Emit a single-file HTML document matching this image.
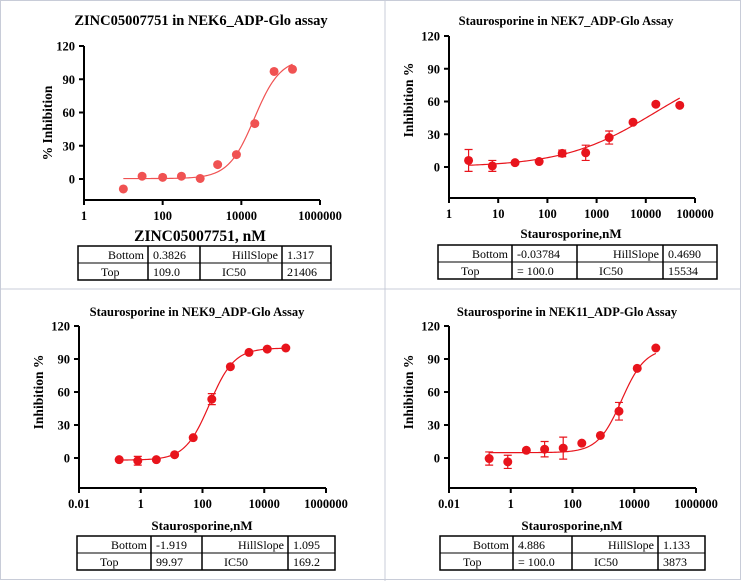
<!DOCTYPE html>
<html><head><meta charset="utf-8"><style>
html,body{margin:0;padding:0;background:#fff;}
svg{display:block;font-family:"Liberation Serif",serif;}
</style></head><body>
<svg id="s" width="741" height="581" viewBox="0 0 741 581" xmlns="http://www.w3.org/2000/svg">
<rect x="0.5" y="0.5" width="740" height="579" fill="#fff" stroke="#c8ccd8"/>
<line x1="385" y1="0" x2="385" y2="581" stroke="#c8ccd8"/>
<line x1="0" y1="289" x2="741" y2="289" stroke="#c8ccd8"/>
</svg>
<script>
// Panel 1: NEK6
const p1Conc=[10,30,100,300,900,2500,7500,22000,68000,200000];
const p1Val=[-9,2.5,1.5,2.5,0.5,13,22,50,97,99];
const p1Err=[0,0,0,0,0,0,0,0,0,0];
const p1Params=[0.3826,109.0,21406,1.317];
const p1Table=[["Bottom","0.3826","HillSlope","1.317"],["Top","109.0","IC50","21406"]];
const p1XTicks=["1","100","10000","1000000"];
// Panel 2: NEK7
const p2Conc=[2.5,7.6,22,68,200,600,1800,5500,16000,49000];
const p2Val=[6,1,4,5,12.5,13,27,41,57.5,56.5];
const p2Err=[10,5,0,0,3,7,6,0,0,0];
const p2Params=[-0.03784,100.0,15534,0.4690];
const p2Table=[["Bottom","-0.03784","HillSlope","0.4690"],["Top","= 100.0","IC50","15534"]];
const p2XTicks=["1","10","100","1000","10000","100000"];
// Panel 3: NEK9
const p3Conc=[0.2,0.8,3.2,12.5,50,200,800,3200,12500,50000];
const p3Val=[-1.5,-2.5,-1.5,3,18.5,53.5,83,96,99,100];
const p3Err=[0,4,0,0,0,5,0,0,0,0];
const p3Params=[-1.919,99.97,169.2,1.095];
const p3Table=[["Bottom","-1.919","HillSlope","1.095"],["Top","99.97","IC50","169.2"]];
const p3XTicks=["0.01","1","100","10000","1000000"];
// Panel 4: NEK11
const p4Conc=[0.2,0.8,3.2,12.5,50,200,800,3200,12500,50000];
const p4Val=[-0.5,-3.5,7,8,9,13.5,20.5,42.5,81.5,100];
const p4Err=[6,6,0,7,10,0,0,8,0,0];
const p4Params=[4.886,100.0,3873,1.133];
const p4Table=[["Bottom","4.886","HillSlope","1.133"],["Top","= 100.0","IC50","3873"]];
const p4XTicks=["0.01","1","100","10000","1000000"];
const yTicks=[0,30,60,90,120];

const NS="http://www.w3.org/2000/svg";
const svg=document.getElementById('s');
function mk(tag,attrs,parent){const e=document.createElementNS(NS,tag);for(const k in attrs)e.setAttribute(k,attrs[k]);(parent||svg).appendChild(e);return e;}

function panel(cfg){
  const g=mk('g',{});
  
  
  const xs=v=>cfg.x0+(Math.log10(v)-cfg.lmin)/(cfg.lmax-cfg.lmin)*(cfg.x1-cfg.x0);
  const ys=v=>cfg.y0-v/120*(cfg.y0-cfg.y120);
  let t=mk('text',{x:cfg.tx,y:cfg.ty,'text-anchor':'middle','font-size':cfg.tfs,'font-weight':'bold',fill:'#000'},g);
  t.textContent=cfg.title;
  
  
  // axes
  let a=mk('path',{d:`M${cfg.x0},${cfg.y120} V${cfg.yb} H${cfg.x1}`,stroke:'#000','stroke-width':2,fill:'none'},g);
  
  
  yTicks.forEach(v=>{
    const y=ys(v);
    mk('line',{x1:cfg.x0-5,y1:y,x2:cfg.x0,y2:y,stroke:'#000','stroke-width':2},g);
    const l=mk('text',{x:cfg.x0-9,y:y+4.5,'text-anchor':'end','font-size':12.5,'font-weight':'bold'},g);
    l.textContent=v;
    
    
  });
  cfg.xt.forEach(s=>{
    const x=xs(parseFloat(s));
    mk('line',{x1:x,y1:cfg.yb,x2:x,y2:cfg.yb+5,stroke:'#000','stroke-width':2},g);
    const l=mk('text',{x:x,y:cfg.yb+20,'text-anchor':'middle','font-size':12.5,'font-weight':'bold'},g);
    l.textContent=s;
    
    
  });
  const yl=mk('text',{transform:`translate(${cfg.ylx},${cfg.yly}) rotate(-90)`,'text-anchor':'middle','font-size':13.5,'font-weight':'bold'},g);
  yl.textContent=cfg.ylab;
  
  
  const xl=mk('text',{x:cfg.xlx,y:cfg.xly,'text-anchor':'middle','font-size':cfg.xfs,'font-weight':'bold'},g);
  xl.textContent=cfg.xlab;
  
  
  // fit curve
  const [bot,top,ic,h]=cfg.params;
  const la=Math.log10(cfg.conc[0]),lb=Math.log10(cfg.conc[cfg.conc.length-1]);
  let d='';
  for(let i=0;i<=120;i++){const l=la+(lb-la)*i/120;const v=bot+(top-bot)/(1+Math.pow(10,(Math.log10(ic)-l)*h));d+=(i?'L':'M')+xs(Math.pow(10,l)).toFixed(2)+','+ys(v).toFixed(2);}
  const c=mk('path',{d:d,stroke:cfg.col,'stroke-width':1.2,fill:'none'},g);
  
  
  cfg.conc.forEach((cv,i)=>{
    const x=xs(cv),y=ys(cfg.val[i]),e=cfg.err[i];
    if(e>0){
      const eb=mk('path',{d:`M${x},${ys(cfg.val[i]+e)}V${ys(cfg.val[i]-e)}M${x-4},${ys(cfg.val[i]+e)}H${x+4}M${x-4},${ys(cfg.val[i]-e)}H${x+4}`,stroke:cfg.col,'stroke-width':1.2,fill:'none'},g);
      
      
    }
    const p=mk('circle',{cx:x,cy:y,r:4.5,fill:cfg.col},g);
    
    
  });
  // table
  const tb=mk('g',{},g);
  
  
  const [tx0,tx1]=[cfg.tab[0],cfg.tab[4]],[ty0,ty1]=[cfg.tabY[0],cfg.tabY[1]],my=(ty0+ty1)/2;
  mk('rect',{x:tx0,y:ty0,width:tx1-tx0,height:ty1-ty0,fill:'none',stroke:'#000','stroke-width':1.5},tb);
  mk('line',{x1:tx0,y1:my,x2:tx1,y2:my,stroke:'#000','stroke-width':1},tb);
  for(let k=1;k<4;k++)mk('line',{x1:cfg.tab[k],y1:ty0,x2:cfg.tab[k],y2:ty1,stroke:'#000','stroke-width':1.5},tb);
  cfg.table.forEach((row,r)=>row.forEach((s,k)=>{
    const cx=(k===0||k===2)?cfg.tab[k+1]-4:cfg.tab[k]+5;
    const anchor=(k===0&&r===0)||(k===2&&r===0)?'end':'start';
    let x=cx;
    if(r===1&&(k===0||k===2))x=cfg.tab[k]+(k===0?23:22);
    const tt=mk('text',{x:x,y:(r?my:ty0)+13,'text-anchor':(r===1&&(k===0||k===2))?'start':anchor,'font-size':12,fill:'#000'},tb);
    tt.textContent=s;
    
    
  }));
}

panel({name:'nek6-chart',title:'ZINC05007751 in NEK6_ADP-Glo assay',tx:201,ty:25,tfs:14.5,x0:84,x1:320,lmin:0,lmax:6,y0:179,y120:46,yb:200,
  xt:p1XTicks,ylab:'% Inhibition',ylx:52,yly:123,xlab:'ZINC05007751, nM',xlx:200,xly:241,xfs:15.5,
  conc:p1Conc,val:p1Val,err:p1Err,params:p1Params,col:'#f05252',table:p1Table,tab:[78,148,200,282,331],tabY:[246,280]});
panel({name:'nek7-chart',title:'Staurosporine in NEK7_ADP-Glo Assay',tx:566,ty:25,tfs:12.5,x0:449,x1:695,lmin:0,lmax:5,y0:167,y120:36,yb:198,
  xt:p2XTicks,ylab:'Inhibition %',ylx:413,yly:100,xlab:'Staurosporine,nM',xlx:571,xly:238,xfs:13,
  conc:p2Conc,val:p2Val,err:p2Err,params:p2Params,col:'#e8141c',table:p2Table,tab:[438,512,577,663,717],tabY:[245,279]});
panel({name:'nek9-chart',title:'Staurosporine in NEK9_ADP-Glo Assay',tx:197,ty:316,tfs:12.5,x0:79,x1:326,lmin:-2,lmax:6,y0:458,y120:326,yb:488,
  xt:p3XTicks,ylab:'Inhibition %',ylx:43,yly:392,xlab:'Staurosporine,nM',xlx:202,xly:530,xfs:13,
  conc:p3Conc,val:p3Val,err:p3Err,params:p3Params,col:'#e8141c',table:p3Table,tab:[77,151,202,288,335],tabY:[536,570]});
panel({name:'nek11-chart',title:'Staurosporine in NEK11_ADP-Glo Assay',tx:567,ty:316,tfs:12.5,x0:449,x1:696,lmin:-2,lmax:6,y0:458,y120:326,yb:488,
  xt:p4XTicks,ylab:'Inhibition %',ylx:413,yly:392,xlab:'Staurosporine,nM',xlx:572,xly:530,xfs:13,
  conc:p4Conc,val:p4Val,err:p4Err,params:p4Params,col:'#e8141c',table:p4Table,tab:[440,513,572,658,705],tabY:[536,570]});
</script>
</body></html>
